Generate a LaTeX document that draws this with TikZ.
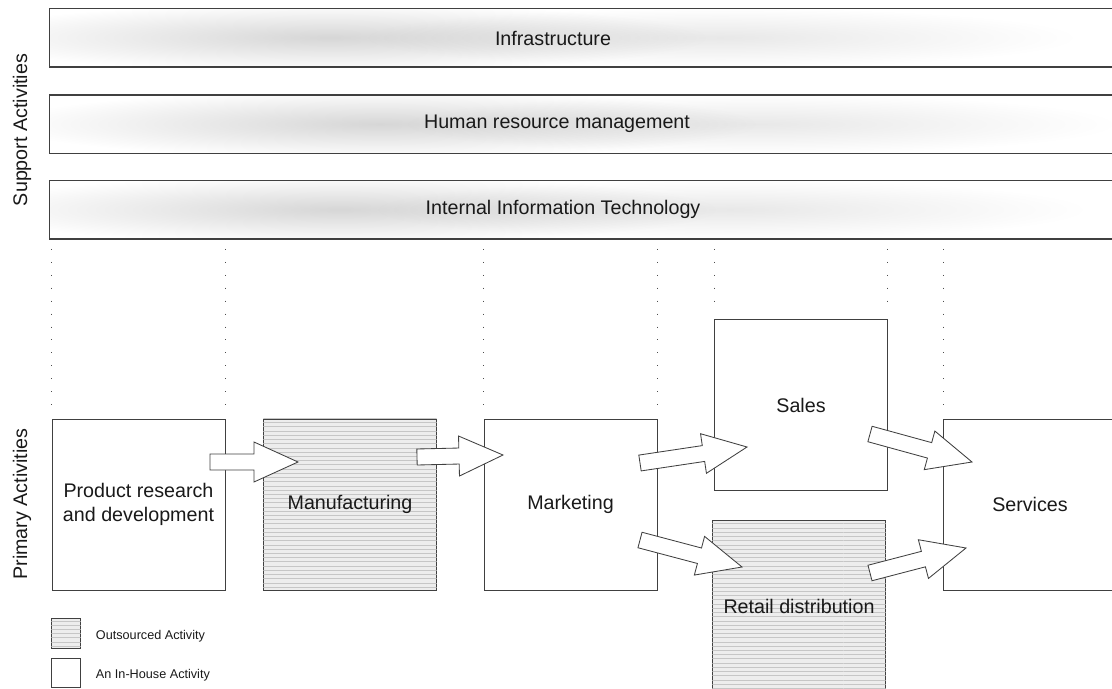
\documentclass[tikz,border=0pt]{standalone}
\usepackage{fontspec}
\setmainfont{Liberation Sans}
\usepackage{tikz}
\usetikzlibrary{calc,patterns}

\begin{document}
\begin{tikzpicture}[x=0.025cm, y=-0.025cm,
  box/.style={draw=black!75, line width=0.6pt, minimum width=4.325cm, minimum height=4.275cm,
    inner sep=0pt, align=center, text=black!90, font=\fontsize{14}{16.5}\selectfont},
  hatched/.style={box, fill=gray!14, postaction={pattern=horizontal lines, pattern color=gray!45}},
  bar/.style={draw=black!75, line width=0.6pt, minimum width=26.65cm, minimum height=1.45cm, inner sep=0pt},
  lbl/.style={text=black!90, font=\fontsize{14}{16.5}\selectfont},
  legendtxt/.style={anchor=west, text=black!90, font=\fontsize{9}{11}\selectfont},
  guide/.style={black!70, line width=0.7pt, dash pattern=on 0.7pt off 8.5pt, shorten <=0.25cm, shorten >=0.225cm},
  blockarrow/.style={draw=black!75, fill=white, line width=0.6pt, line join=miter}]

\useasboundingbox (0,0) rectangle (1112,689);

% support activities
\node[bar] (infra) at (583,37.5) {};
\node[bar] (hrm) at (583,124) {};
\node[bar] (iit) at (583,209.5) {};

\foreach \b/\xa/\xb in {infra/330/720, hrm/380/760, iit/340/730} {
  \begin{scope}
    \clip (\b.north west) rectangle (\b.south east);
    \shade[blend mode=multiply, inner color=black!16, outer color=white] (\xa,0 |- \b.center) ellipse (380 and 34);
    \shade[blend mode=multiply, inner color=black!9, outer color=white] (\xb,0 |- \b.center) ellipse (360 and 30);
  \end{scope}
  \draw[black!75, line width=0.6pt] (\b.north east) -- (\b.north west) -- (\b.south west) -- (\b.south east);
}

\node[lbl] (infratxt) at (553,38) {Infrastructure};
\node[lbl] (hrmtxt) at (557,124) {Human resource management};
\node[lbl] (iittxt) at (563,209) {Internal Information Technology};

\node[lbl, rotate=90] (support) at (22,130) {Support Activities};
\node[lbl, rotate=90] (primary) at (22,504) {Primary Activities};

% primary activities
\node[box] (prd) at (138.5,504.5) {Product research\\and development};
\node[hatched] (mfg) at (350,504.5) {Manufacturing};
\node[box] (mkt) at (570.5,504.5) {Marketing};
\node[box] (sales) at (801,405) {Sales};
\node[hatched] (retail) at (799,606) {Retail distribution};
\node[box] (srv) at (1030,504.5) {Services};

\foreach \n/\a in {prd/north west, prd/north east, mkt/north west, mkt/north east, sales/north west, sales/north east, srv/north west}
  \draw[guide] (\n.\a |- iit.south) -- (\n.\a);

% flow arrows
\coordinate (t1) at (210,462); \coordinate (h1) at (298,462);
\coordinate (t2) at (417,457); \coordinate (h2) at (503,455);
\coordinate (t3) at (640,463); \coordinate (h3) at (747,447);
\coordinate (t4) at (640,540); \coordinate (h4) at (742,567);
\coordinate (t5) at (870,434); \coordinate (h5) at (972,462);
\coordinate (t6) at (870,573); \coordinate (h6) at (966,548);

\foreach \i in {1,...,6} {
  \coordinate (b\i) at ($(h\i)!1.1cm!(t\i)$);
  \draw[blockarrow] ($(t\i)!0.2cm!90:(h\i)$) -- ($(b\i)!0.2cm!90:(h\i)$) -- ($(b\i)!0.5cm!90:(h\i)$)
    -- (h\i) -- ($(b\i)!0.5cm!-90:(h\i)$) -- ($(b\i)!0.2cm!-90:(h\i)$) -- ($(t\i)!0.2cm!-90:(h\i)$) -- cycle;
}

% legend
\node[hatched, minimum width=0.725cm, minimum height=0.75cm] (outbox) at (66,633) {};
\node[box, minimum width=0.725cm, minimum height=0.725cm] (inbox) at (66,673) {};
\node[legendtxt] (outtxt) at (91,636) {Outsourced Activity};
\node[legendtxt] (intxt) at (91,675) {An In-House Activity};

\end{tikzpicture}
\end{document}
